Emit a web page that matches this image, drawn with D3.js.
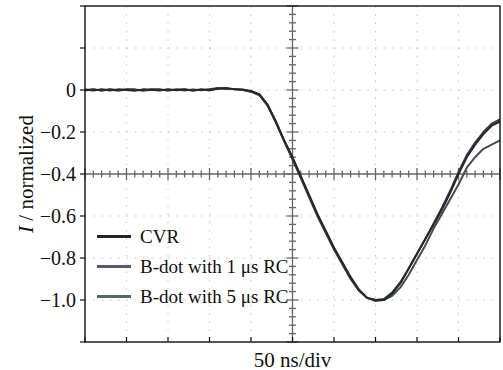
<!DOCTYPE html>
<html>
<head>
<meta charset="utf-8">
<script src="https://cdn.jsdelivr.net/npm/d3@7"></script>
<style>
  body { margin: 0; background: #fff; }
  svg { display: block; }
</style>
</head>
<body>
<svg id="chart" width="503" height="370" font-family="'Liberation Serif', 'Times New Roman', Times, 'DejaVu Serif', serif"></svg>
<script>
// ---- data ----
const timeNs = [0,10,20,30,40,50,60,70,80,90,100,110,120,130,140,150,160,170,180,190,200,
  210,220,230,240,250,260,270,280,290,300,310,320,330,340,350,360,370,380,390,400,
  410,420,430,440,450,460,470,480,490,500];
const cvr = [0.002,-0.003,0.004,-0.002,0.003,0.000,-0.004,0.003,0.001,-0.002,0.004,-0.001,0.002,-0.003,0.002,0.000,0.006,0.008,0.004,0.002,-0.005,
  -0.02,-0.07,-0.15,-0.24,-0.32,-0.41,-0.50,-0.59,-0.67,-0.75,-0.82,-0.89,-0.95,-0.99,-1.00,-1.00,-0.97,-0.92,-0.85,-0.78,
  -0.71,-0.64,-0.57,-0.49,-0.40,-0.32,-0.26,-0.21,-0.17,-0.15];
const bdot1 = [-0.003,0.003,-0.002,0.004,-0.001,0.003,0.001,-0.003,0.004,0.002,-0.002,0.003,-0.002,0.003,-0.001,0.004,0.009,0.006,0.005,0.000,-0.008,
  -0.025,-0.075,-0.155,-0.245,-0.33,-0.42,-0.51,-0.60,-0.68,-0.76,-0.83,-0.90,-0.955,-0.99,-1.00,-0.995,-0.965,-0.915,-0.85,-0.78,
  -0.71,-0.635,-0.56,-0.48,-0.39,-0.31,-0.25,-0.20,-0.16,-0.14];
const bdot5 = [0.000,0.004,-0.003,0.002,-0.004,0.002,0.003,-0.002,0.000,0.003,-0.003,0.002,0.004,-0.002,0.003,-0.003,0.007,0.009,0.003,0.001,-0.007,
  -0.022,-0.072,-0.152,-0.242,-0.325,-0.415,-0.505,-0.595,-0.675,-0.755,-0.825,-0.895,-0.955,-0.99,-1.005,-1.00,-0.98,-0.94,-0.88,-0.81,
  -0.74,-0.66,-0.59,-0.52,-0.45,-0.37,-0.32,-0.28,-0.26,-0.24];
const yTickValues = [0, -0.2, -0.4, -0.6, -0.8, -1.0];
const yTickLabels = ["0", "\u22120.2", "\u22120.4", "\u22120.6", "\u22120.8", "\u22121.0"];
const seriesNames = ["CVR", "B-dot with 1 \u03bcs RC", "B-dot with 5 \u03bcs RC"];
const seriesColors = ["#2b1f2f", "#5b5870", "#4f6b68"];
const xLabel = "50 ns/div";

// ---- layout ----
const svg = d3.select("#chart");
const L = 85, R = 500, T = 6, B = 342;
const x = d3.scaleLinear().domain([0, 500]).range([L, R]);
const y = d3.scaleLinear().domain([-1.2, 0.4]).range([B, T]);

const xDivs = d3.range(0, 501, 50);
const yDivs = d3.range(-6, 3).map(d => +(d * 0.2).toFixed(2));

// grid (dotted oscilloscope style)
const grid = svg.append("g").attr("stroke", "#c4c4c4").attr("stroke-width", 1)
  .attr("stroke-dasharray", "1.5,6.8");
grid.selectAll(".gv").data(xDivs.slice(1, -1)).join("line")
  .attr("x1", d => x(d)).attr("x2", d => x(d)).attr("y1", T).attr("y2", B);
grid.selectAll(".gh").data(yDivs.filter(d => d > -1.2 && d < 0.4)).join("line")
  .attr("x1", L).attr("x2", R).attr("y1", d => y(d)).attr("y2", d => y(d));

// center crosshair with minor ticks
const cx = x(250), cy = y(-0.4);
const cross = svg.append("g").attr("stroke", "#666").attr("stroke-width", 1.3);
cross.append("line").attr("x1", cx).attr("x2", cx).attr("y1", T).attr("y2", B);
cross.append("line").attr("x1", L).attr("x2", R).attr("y1", cy).attr("y2", cy);
const minorX = d3.range(0, 501, 10);
cross.selectAll(".mx").data(minorX).join("line")
  .attr("x1", d => x(d)).attr("x2", d => x(d))
  .attr("y1", d => cy - (d % 50 === 0 ? 6 : 3.5)).attr("y2", d => cy + (d % 50 === 0 ? 6 : 3.5));
const minorY = d3.range(-30, 11).map(d => d * 0.04);
cross.selectAll(".my").data(minorY).join("line")
  .attr("y1", d => y(d)).attr("y2", d => y(d))
  .attr("x1", (d, i) => cx - ((i % 5 === 0) ? 6 : 3.5)).attr("x2", (d, i) => cx + ((i % 5 === 0) ? 6 : 3.5));

// series lines
const line = d3.line().x((d, i) => x(timeNs[i])).y(d => y(d)).curve(d3.curveLinear);
const plotColors = ["#2a2430", "#3d3a4a", "#3e4f4d"];
[[bdot5, 2], [bdot1, 1], [cvr, 0]].forEach(([s, idx]) => {
  svg.append("path").datum(s).attr("d", line)
    .attr("fill", "none").attr("stroke", plotColors[idx])
    .attr("stroke-width", 2).attr("stroke-linejoin", "round");
});

// frame
svg.append("rect").attr("x", L).attr("y", T).attr("width", R - L).attr("height", B - T)
  .attr("fill", "none").attr("stroke", "#111").attr("stroke-width", 1.4);

// left axis ticks (outward)
svg.append("g").selectAll("line").data(yDivs).join("line")
  .attr("x1", L - 5).attr("x2", L).attr("y1", d => y(d)).attr("y2", d => y(d))
  .attr("stroke", "#111").attr("stroke-width", 1.2);
// bottom axis ticks (inward)
svg.append("g").selectAll("line").data(xDivs).join("line")
  .attr("x1", d => x(d)).attr("x2", d => x(d)).attr("y1", B).attr("y2", B - 5)
  .attr("stroke", "#111").attr("stroke-width", 1.2);

// y tick labels
svg.append("g").selectAll("text").data(yTickValues).join("text")
  .attr("x", 76).attr("y", d => y(d)).attr("dy", "0.33em")
  .attr("text-anchor", "end").attr("font-size", 20).attr("fill", "#111")
  .text((d, i) => yTickLabels[i]);

// axis titles
const yt = svg.append("text").attr("transform", `translate(33,${y(-0.4)}) rotate(-90)`)
  .attr("text-anchor", "middle").attr("font-size", 21).attr("fill", "#111");
yt.append("tspan").attr("font-style", "italic").text("I");
yt.append("tspan").text(" / normalized");
svg.append("text").attr("x", x(250)).attr("y", 366.5).attr("text-anchor", "middle")
  .attr("font-size", 21).attr("fill", "#111").text(xLabel);

// legend
const legY = [236.5, 266.5, 296.5];
const leg = svg.append("g");
seriesNames.forEach((n, i) => {
  leg.append("line").attr("x1", 97).attr("x2", 131).attr("y1", legY[i]).attr("y2", legY[i])
    .attr("stroke", seriesColors[i]).attr("stroke-width", 3);
  leg.append("text").attr("x", 140).attr("y", legY[i]).attr("dy", "0.33em")
    .attr("font-size", 19).attr("fill", "#111").text(n);
});
</script>
</body>
</html>
